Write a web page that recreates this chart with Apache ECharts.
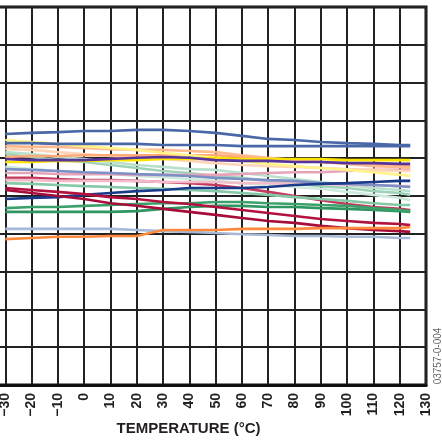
<!DOCTYPE html>
<html>
<head>
<meta charset="utf-8">
<script src="https://cdn.jsdelivr.net/npm/echarts@6/dist/echarts.min.js"></script>
<style>html,body{margin:0;padding:0;background:#fff}#c{width:442px;height:442px}</style>
</head>
<body>
<div id="c"></div>
<script>
// ---- data ----
const temps = [-30,-20,-10,0,10,20,30,40,50,60,70,80,90,100,110,120,124];
const xTickLabels = ['','−30','−20','−10','0','10','20','30','40','50','60','70','80','90','100','110','120','130'];
const xAxisTitle = 'TEMPERATURE (°C)';
const figureId = '03757-0-004';

const blueTop     = [1.64,1.67,1.69,1.72,1.72,1.75,1.75,1.72,1.67,1.59,1.51,1.48,1.43,1.40,1.38,1.35,1.35];
const blueLow     = [1.40,1.40,1.38,1.38,1.38,1.38,1.35,1.35,1.35,1.32,1.32,1.32,1.32,1.32,1.32,1.32,1.32];
const yellowLight = [1.48,1.43,1.38,1.32,1.27,1.22,1.14,1.08,1.01,0.93,0.85,0.79,0.74,0.69,0.63,0.56,0.53];
const peach       = [1.32,1.30,1.30,1.27,1.24,1.22,1.22,1.19,1.16,1.08,1.01,0.95,0.90,0.85,0.79,0.77,0.74];
const peachLight  = [1.24,1.22,1.16,1.11,1.06,1.01,0.98,0.93,0.87,0.82,0.79,0.77,0.74,0.71,0.69,0.66,0.66];
const orangePeach = [1.03,1.06,1.06,1.08,1.08,1.08,1.08,1.08,1.08,1.03,0.98,0.95,0.90,0.87,0.85,0.82,0.79];
const gold        = [0.90,0.90,0.93,0.93,0.95,0.95,0.98,0.98,1.01,0.98,0.98,0.98,0.98,0.95,0.95,0.95,0.95];
const purple      = [0.98,0.95,0.95,0.95,0.98,1.01,1.03,1.01,0.95,0.93,0.93,0.90,0.90,0.87,0.87,0.85,0.85];
const mint1       = [1.16,1.11,1.03,0.98,0.90,0.82,0.77,0.71,0.69,0.61,0.53,0.45,0.37,0.29,0.21,0.16,0.13];
const mint2       = [1.11,1.03,0.95,0.90,0.82,0.74,0.66,0.61,0.53,0.48,0.40,0.34,0.26,0.21,0.13,0.08,0.03];
const mint3       = [0.77,0.71,0.66,0.63,0.58,0.53,0.50,0.45,0.40,0.34,0.29,0.24,0.19,0.11,0.03,-0.05,-0.11];
const mint4       = [0.34,0.32,0.29,0.26,0.24,0.21,0.19,0.16,0.13,0.08,0.03,-0.03,-0.08,-0.13,-0.19,-0.24,-0.24];
const lavender    = [0.71,0.69,0.66,0.63,0.61,0.58,0.56,0.53,0.48,0.45,0.42,0.40,0.34,0.32,0.29,0.26,0.24];
const pink        = [0.61,0.61,0.58,0.58,0.58,0.56,0.56,0.56,0.56,0.58,0.61,0.63,0.63,0.66,0.69,0.69,0.69];
const pink2       = [0.42,0.42,0.40,0.40,0.40,0.40,0.37,0.37,0.37,0.34,0.34,0.32,0.32,0.29,0.29,0.26,0.26];
const crimsonA    = [0.48,0.48,0.45,0.42,0.42,0.40,0.37,0.34,0.29,0.21,0.11,0.00,-0.11,-0.21,-0.29,-0.34,-0.37];
const navy        = [-0.08,-0.05,-0.03,0.03,0.08,0.13,0.16,0.21,0.21,0.21,0.24,0.29,0.32,0.34,0.37,0.40,0.40];
const crimsonB    = [0.21,0.16,0.11,0.05,-0.03,-0.08,-0.16,-0.21,-0.29,-0.37,-0.45,-0.53,-0.61,-0.66,-0.71,-0.74,-0.77];
const crimsonC    = [0.16,0.08,0.00,-0.08,-0.19,-0.26,-0.34,-0.42,-0.50,-0.58,-0.66,-0.71,-0.79,-0.85,-0.90,-0.93,-0.95];
const green1      = [-0.32,-0.29,-0.29,-0.26,-0.24,-0.21,-0.19,-0.19,-0.16,-0.16,-0.19,-0.21,-0.24,-0.26,-0.32,-0.37,-0.40];
const green2      = [-0.42,-0.42,-0.42,-0.42,-0.42,-0.40,-0.34,-0.29,-0.26,-0.26,-0.29,-0.29,-0.32,-0.34,-0.37,-0.40,-0.42];
const steelLight  = [-0.87,-0.87,-0.87,-0.87,-0.87,-0.90,-0.93,-0.95,-0.98,-1.01,-1.03,-1.06,-1.06,-1.08,-1.08,-1.11,-1.11];
const orange      = [-1.14,-1.11,-1.08,-1.08,-1.06,-1.06,-0.90,-0.90,-0.90,-0.87,-0.87,-0.87,-0.85,-0.85,-0.85,-0.85,-0.82];

// ---- styles ----
const seriesDefs = [
  [crimsonA,'#c43a5e'],[mint3,'#cdeadd'],[mint1,'#b8e0cc'],[mint2,'#9fd3b9'],[mint4,'#86c9a6'],
  [pink2,'#f2bccb'],[pink,'#e7a3b8'],[lavender,'#7d90c6'],
  [peachLight,'#ffd5b8'],[orangePeach,'#ffa878'],[peach,'#ffb98e'],[yellowLight,'#fff38a'],
  [gold,'#ffe400'],[purple,'#55349b'],
  [blueLow,'#4a67a8'],[blueTop,'#4a67a8'],[navy,'#1a3a8c'],
  [green2,'#2f9561'],[green1,'#3ca06a'],[crimsonB,'#b3123f'],[crimsonC,'#a80d3a'],
  [steelLight,'#a8b8d8'],[orange,'#ff8a3d']
];

const chart = echarts.init(document.getElementById('c'), null, {renderer:'canvas'});
chart.setOption({
  animation:false,
  backgroundColor:'#fff',
  grid:{left:-21,right:16,top:7,bottom:57,outerBoundsMode:'none',containLabel:false,
    show:true,borderColor:'#111',borderWidth:3,backgroundColor:'transparent'},
  xAxis:{
    type:'value',min:-40,max:130,interval:10,
    name:xAxisTitle,nameLocation:'middle',nameGap:36,nameMoveOverlap:false,
    nameTextStyle:{fontFamily:'Liberation Sans',fontWeight:'bold',fontSize:15,color:'#231f20',padding:[0,28,0,0]},
    axisLine:{show:true,onZero:false,lineStyle:{color:'#111',width:3}},
    axisTick:{show:false},
    axisLabel:{rotate:90,margin:8,fontFamily:'Liberation Sans',fontWeight:'bold',fontSize:14,color:'#231f20',
      formatter:(v)=>xTickLabels[Math.round((v+40)/10)]},
    splitLine:{show:true,lineStyle:{color:'#222',width:2}}
  },
  yAxis:{
    type:'value',min:-5,max:5,interval:1,
    axisLine:{show:false},axisTick:{show:false},axisLabel:{show:false},
    splitLine:{show:true,lineStyle:{color:'#222',width:2}}
  },
  graphic:[{type:'text',x:438,y:356,rotation:Math.PI/2,
    style:{text:figureId,fill:'#666',font:'10px "Liberation Sans Narrow","Liberation Sans"',align:'center',verticalAlign:'middle'}}],
  series:seriesDefs.map(([vals,color])=>({
    type:'line',showSymbol:false,smooth:false,
    data:temps.map((t,i)=>[t,vals[i]]),
    lineStyle:{color:color,width:2.6},
    itemStyle:{color:color}
  }))
});
</script>
</body>
</html>
